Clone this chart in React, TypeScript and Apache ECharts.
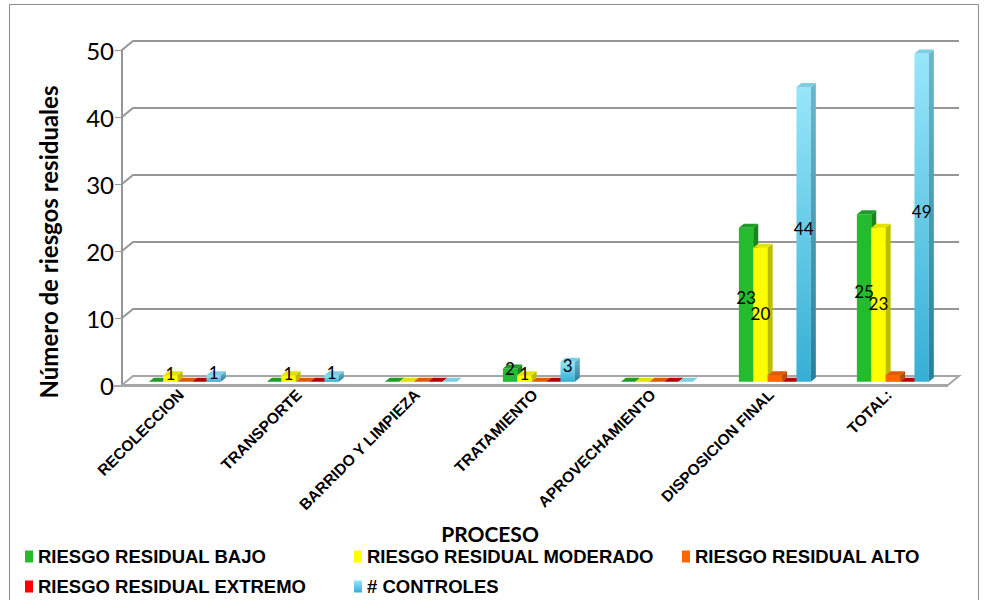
import React, { useEffect, useRef } from "react";
import * as echarts from "echarts";

// Processes along the x axis
const categories = [
  "RECOLECCION",
  "TRANSPORTE",
  "BARRIDO Y LIMPIEZA",
  "TRATAMIENTO",
  "APROVECHAMIENTO",
  "DISPOSICION FINAL",
  "TOTAL:",
];

// Residual risk counts per process
const riesgoBajo = [0, 0, 0, 2, 0, 23, 25];
const riesgoModerado = [1, 1, 0, 1, 0, 20, 23];
const riesgoAlto = [0, 0, 0, 0, 0, 1, 1];
const riesgoExtremo = [0, 0, 0, 0, 0, 0, 0];
const controles = [1, 1, 0, 3, 0, 44, 49];

const yTicks = [0, 10, 20, 30, 40, 50];

// Depth of the back wall relative to the front plane
const DX = 11;
const DY = -9;

type Face = { front: any; side: any; top: any; legend: any };

const cyanFront = () =>
  new echarts.graphic.LinearGradient(0, 0, 0, 1, [
    { offset: 0, color: "#98E6FA" },
    { offset: 1, color: "#35AFD4" },
  ]);
const cyanSide = () =>
  new echarts.graphic.LinearGradient(0, 0, 0, 1, [
    { offset: 0, color: "#6BB8CC" },
    { offset: 1, color: "#27809C" },
  ]);

// labelShift: vertical nudge of the value label from the bar's middle (null = no label)
const seriesDefs: { name: string; values: number[]; face: Face; labelShift: number | null }[] = [
  {
    name: "RIESGO RESIDUAL BAJO",
    values: riesgoBajo,
    face: { front: "#24BB2E", side: "#17861F", top: "#1E9C27", legend: "#24BB2E" },
    labelShift: -7,
  },
  {
    name: "RIESGO RESIDUAL MODERADO",
    values: riesgoModerado,
    face: { front: "#FFFF00", side: "#BDBD00", top: "#E2E200", legend: "#FFFF00" },
    labelShift: -1,
  },
  {
    name: "RIESGO RESIDUAL ALTO",
    values: riesgoAlto,
    face: { front: "#FF6600", side: "#B84A00", top: "#E05A00", legend: "#FF6600" },
    labelShift: null,
  },
  {
    name: "RIESGO RESIDUAL EXTREMO",
    values: riesgoExtremo,
    face: { front: "#E00000", side: "#900000", top: "#B80000", legend: "#FF0000" },
    labelShift: null,
  },
  {
    name: "# CONTROLES",
    values: controles,
    face: { front: cyanFront(), side: cyanSide(), top: "#7CCFE3", legend: cyanFront() },
    labelShift: -6,
  },
];

function barRenderer(idx: number, face: Face, labelShift: number | null) {
  return (params: any, api: any) => {
    const cat = api.value(0);
    const val = api.value(1);
    const base = api.coord([cat, 0]);
    const top = api.coord([cat, val]);
    const band = api.size([1, 0])[0];
    const bw = band * 0.122;
    const fx = DX * 0.35;
    const fy = DY * 0.35;
    const dx = 5;
    const dy = -4;
    const x0 = base[0] - 2.5 * bw + idx * bw + fx;
    const yb = base[1] + fy;
    const yt = top[1] + fy;
    const children: any[] = [];
    if (val > 0) {
      children.push({
        type: "rect",
        shape: { x: x0, y: yt, width: bw, height: yb - yt },
        style: { fill: face.front },
      });
      children.push({
        type: "polygon",
        shape: {
          points: [
            [x0 + bw, yt],
            [x0 + bw + dx, yt + dy],
            [x0 + bw + dx, yb + dy],
            [x0 + bw, yb],
          ],
        },
        style: { fill: face.side },
      });
    }
    children.push({
      type: "polygon",
      shape: {
        points: [
          [x0, yt],
          [x0 + dx, yt + dy],
          [x0 + bw + dx, yt + dy],
          [x0 + bw, yt],
        ],
      },
      style: { fill: face.top },
    });
    if (labelShift !== null && val > 0) {
      let ly = (yt + yb) / 2 + labelShift;
      // very short bars: keep the label up on the bar's top
      if (yb - yt < 10) ly = Math.min(ly, yt - 2);
      children.push({
        type: "text",
        z2: 100,
        style: {
          text: String(val),
          x: x0 + bw / 2,
          y: ly,
          align: "center",
          verticalAlign: "middle",
          fill: "#000",
          font: "17px Lato",
        },
      });
    }
    return { type: "group", children };
  };
}

// Back wall gridlines and the floor of the 3D plot box
function wallRenderer(params: any, api: any) {
  const cs = params.coordSys;
  const x = cs.x;
  const w = cs.width;
  const y0 = api.coord([0, 0])[1];
  const children: any[] = [];
  children.push({
    type: "polygon",
    shape: {
      points: [
        [x, y0],
        [x + DX, y0 + DY],
        [x + w + DX, y0 + DY],
        [x + w, y0],
      ],
    },
    style: { fill: "#FFFFFF", stroke: "#A6A6A6", lineWidth: 2 },
  });
  yTicks.forEach((v) => {
    if (v === 0) return;
    const y = api.coord([0, v])[1];
    children.push({
      type: "polyline",
      shape: {
        points: [
          [x, y],
          [x + DX, y + DY],
          [x + w + DX, y + DY],
        ],
      },
      style: { stroke: "#969696", lineWidth: 2, fill: null },
    });
  });
  children.push({
    type: "line",
    shape: { x1: x - 8, y1: y0 + 1, x2: x + w, y2: y0 + 1 },
    style: { stroke: "#A6A6A6", lineWidth: 2 },
  });
  return { type: "group", children };
}

const legendPos = [
  { left: 20, top: 542 },
  { left: 349, top: 542 },
  { left: 677, top: 542 },
  { left: 20, top: 572 },
  { left: 349, top: 572 },
];

export default function App() {
  const ref = useRef<HTMLDivElement>(null);

  useEffect(() => {
    if (!ref.current) return;
    const chart = echarts.init(ref.current, undefined, { renderer: "svg" });

    const series: any[] = [
      {
        type: "custom",
        name: "wall",
        silent: true,
        z: 1,
        data: [[0, 0]],
        renderItem: wallRenderer,
      },
      ...seriesDefs.map((s, i) => ({
        type: "custom",
        name: s.name,
        z: 3,
        itemStyle: { color: s.face.legend },
        data: s.values.map((v, c) => [c, v]),
        renderItem: barRenderer(i, s.face, s.labelShift),
      })),
    ];

    chart.setOption({
      animation: false,
      backgroundColor: "#FFFFFF",
      grid: { left: 122, right: 36, top: 50, bottom: 215, containLabel: false },
      xAxis: {
        type: "category",
        data: categories,
        axisLine: { show: false },
        axisTick: { show: false },
        splitLine: { show: false },
        axisLabel: {
          interval: 0,
          rotate: 45,
          margin: 7,
          color: "#000",
          fontWeight: "bold",
          fontSize: 15.5,
          fontFamily: "Liberation Sans, Arial, sans-serif",
        },
      },
      yAxis: {
        type: "value",
        min: 0,
        max: 50,
        interval: 10,
        axisLine: { show: true, lineStyle: { color: "#969696", width: 2 } },
        axisTick: { show: true, length: 7, lineStyle: { color: "#969696", width: 1 } },
        splitLine: { show: false },
        axisLabel: {
          margin: 8,
          color: "#000",
          fontSize: 24,
          fontFamily: "Lato, sans-serif",
        },
      },
      legend: seriesDefs.map((s, i) => ({
        data: [s.name],
        left: legendPos[i].left,
        top: legendPos[i].top,
        icon: "rect",
        itemWidth: 8,
        itemHeight: 12,
        selectedMode: false,
        textStyle: {
          color: "#000",
          fontWeight: "bold",
          fontSize: 18.5,
          fontFamily: "Liberation Sans, Arial, sans-serif",
        },
      })),
      graphic: [
        {
          type: "rect",
          silent: true,
          shape: { x: 9.5, y: 4.5, width: 969, height: 620 },
          style: { fill: null, stroke: "#8C8C8C", lineWidth: 1 },
        },
        {
          type: "text",
          x: 48,
          y: 242,
          rotation: Math.PI / 2,
          style: {
            text: "Número de riesgos residuales",
            align: "center",
            verticalAlign: "middle",
            fill: "#000",
            font: "bold 24px Lato",
          },
        },
        {
          type: "text",
          x: 490,
          y: 533,
          style: {
            text: "PROCESO",
            align: "center",
            verticalAlign: "middle",
            fill: "#000",
            font: "bold 21px Lato",
          },
        },
      ],
      series,
    });

    return () => chart.dispose();
  }, []);

  return (
    <div
      ref={ref}
      style={{ position: "absolute", left: 0, top: 0, width: 984, height: 600 }}
    />
  );
}
